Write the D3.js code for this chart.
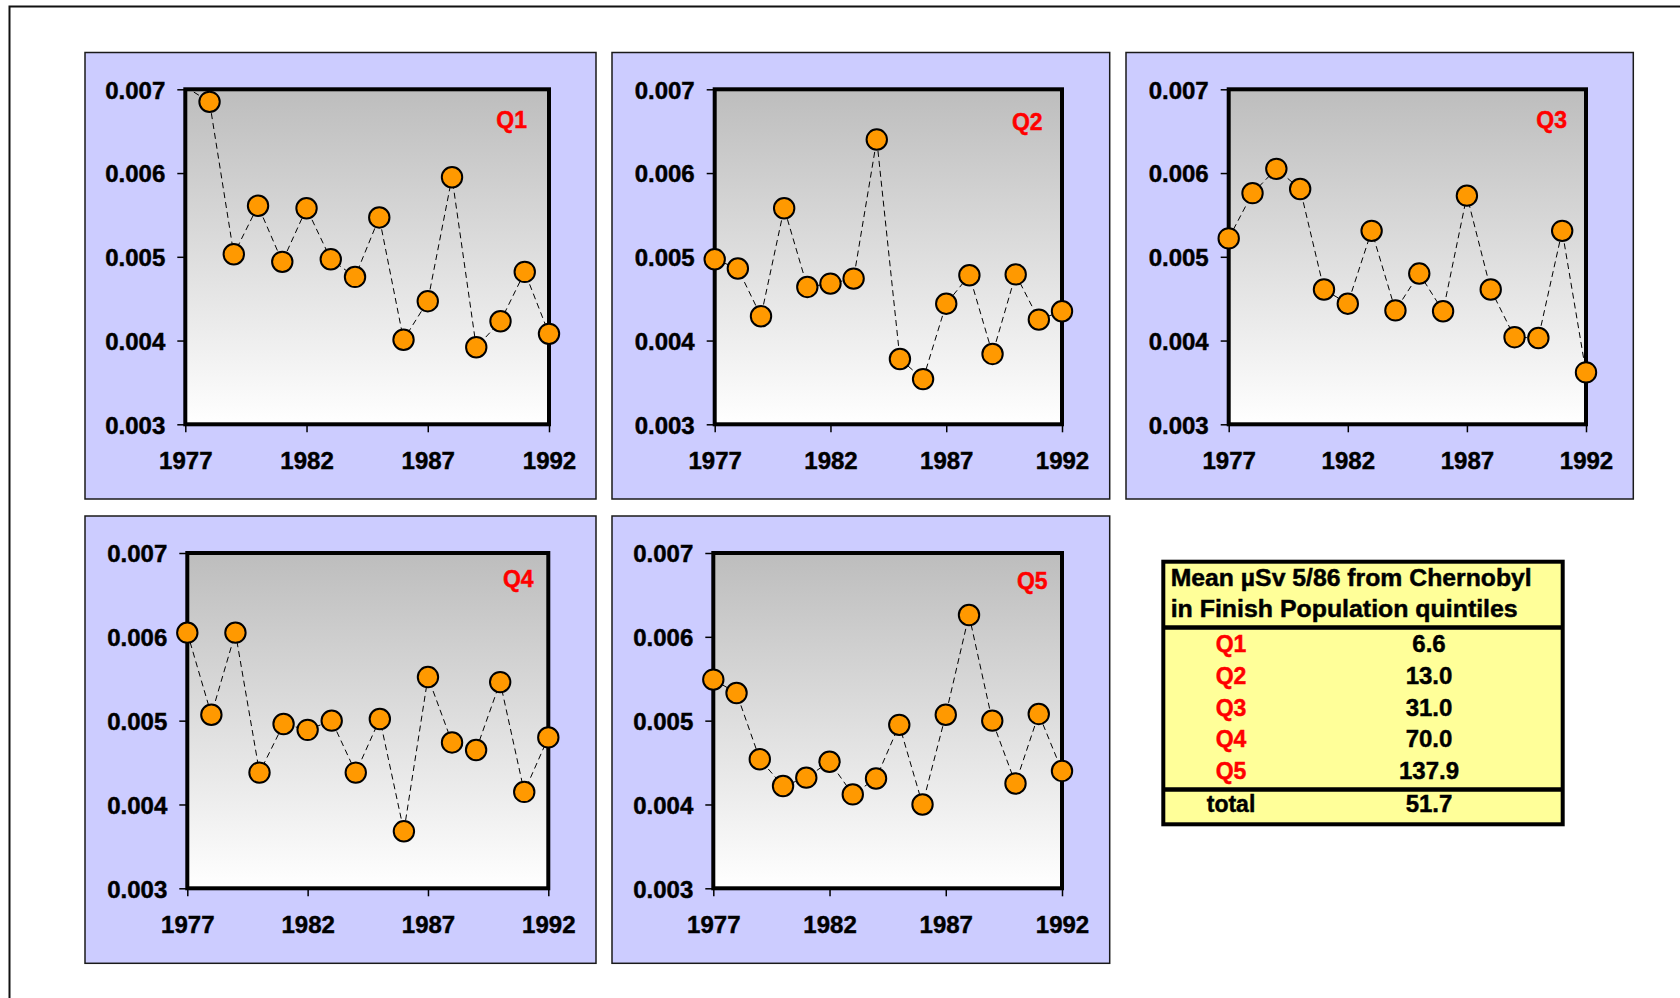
<!DOCTYPE html>
<html>
<head>
<meta charset="utf-8">
<script src="https://cdn.jsdelivr.net/npm/d3@7"></script>
<style>
  html, body { margin: 0; padding: 0; background: #ffffff; }
  svg { display: block; }
  text { font-family: "Liberation Sans", Arial, sans-serif; font-weight: bold; }
</style>
</head>
<body>
<svg id="chart" width="1680" height="998"></svg>
<script>
// ---------- DATA ----------
const years = [1977, 1978, 1979, 1980, 1981, 1982, 1983, 1984, 1985, 1986, 1987, 1988, 1989, 1990, 1991, 1992];
const xTickYears = [1977, 1982, 1987, 1992];
const yTickValues = [0.003, 0.004, 0.005, 0.006, 0.007];

const q1 = [0.00703, 0.00685, 0.00503, 0.00561, 0.00494, 0.00558, 0.00497, 0.00476, 0.00547, 0.00401, 0.00447, 0.00595, 0.00392, 0.00423, 0.00482, 0.00408];
const q2 = [0.00497, 0.00486, 0.00429, 0.00558, 0.00464, 0.00468, 0.00474, 0.00640, 0.00378, 0.00354, 0.00444, 0.00478, 0.00384, 0.00479, 0.00425, 0.00435];
const q3 = [0.00522, 0.00576, 0.00605, 0.00581, 0.00461, 0.00444, 0.00531, 0.00436, 0.00480, 0.00435, 0.00573, 0.00461, 0.00404, 0.00403, 0.00531, 0.00362];
const q4 = [0.00605, 0.00507, 0.00605, 0.00438, 0.00496, 0.00489, 0.00500, 0.00438, 0.00502, 0.00368, 0.00552, 0.00474, 0.00465, 0.00546, 0.00415, 0.00480];
const q5 = [0.00549, 0.00533, 0.00454, 0.00422, 0.00432, 0.00451, 0.00412, 0.00431, 0.00495, 0.00400, 0.00507, 0.00626, 0.00500, 0.00425, 0.00508, 0.00440];

const seriesNames = ["Q1", "Q2", "Q3", "Q4", "Q5"];
const seriesValues = [q1, q2, q3, q4, q5];

const tableTitle = ["Mean \u00b5Sv 5/86 from Chernobyl", "in Finish Population quintiles"];
const tableLabels = ["Q1", "Q2", "Q3", "Q4", "Q5"];
const tableValues = [6.6, 13.0, 31.0, 70.0, 137.9];
const totalLabel = "total";
const totalValue = 51.7;

// ---------- LAYOUT ----------
const layout = [
  { box: [85, 52.5, 596, 499],      plot: [185.3, 89.3, 549, 424.3],   label: [511.7, 128.3] },
  { box: [612, 52.5, 1109.7, 499],  plot: [714.7, 89.3, 1062, 424.3],  label: [1027.3, 130] },
  { box: [1126, 52.5, 1633.3, 499], plot: [1228.7, 89.3, 1586, 424.3], label: [1551.7, 128.3] },
  { box: [85, 516, 596, 963.3],     plot: [187.3, 553, 548.3, 888.3],  label: [518.3, 587.3] },
  { box: [612, 516, 1109.7, 963.3], plot: [713.3, 553, 1062, 888.3],   label: [1032.3, 589.3] }
];

const svg = d3.select("#chart");
const defs = svg.append("defs");

const grad = defs.append("linearGradient")
  .attr("id", "plotGrad").attr("x1", 0).attr("y1", 0).attr("x2", 0).attr("y2", 1);
grad.append("stop").attr("offset", "0%").attr("stop-color", "#bdbdbd");
grad.append("stop").attr("offset", "100%").attr("stop-color", "#ffffff");

// outer frame (top + left lines)
svg.append("path")
  .attr("d", "M9.5,1000 L9.5,6.5 L1690,6.5")
  .attr("fill", "none").attr("stroke", "#111").attr("stroke-width", 2);

const fmtY = d3.format(".3f");
const FONT = '"Liberation Sans", Arial, sans-serif';

function heavy(sel, color) {
  sel.attr("stroke", color).attr("stroke-width", 0.45).attr("paint-order", "stroke");
}

seriesNames.forEach((name, i) => {
  const L = layout[i];
  const vals = seriesValues[i];
  const [bx0, by0, bx1, by1] = L.box;
  const [px0, py0, px1, py1] = L.plot;

  const g = svg.append("g");

  g.append("rect")
    .attr("x", bx0).attr("y", by0)
    .attr("width", bx1 - bx0).attr("height", by1 - by0)
    .attr("fill", "#ccccff").attr("stroke", "#1a1a1a").attr("stroke-width", 1.5);

  const x = d3.scaleLinear().domain([1977, 1992]).range([px0, px1]);
  const y = d3.scaleLinear().domain([0.003, 0.007]).range([py1, py0]);

  g.append("rect")
    .attr("x", px0).attr("y", py0)
    .attr("width", px1 - px0).attr("height", py1 - py0)
    .attr("fill", "url(#plotGrad)");

  const clipId = "clip" + i;
  defs.append("clipPath").attr("id", clipId)
    .append("rect").attr("x", px0).attr("y", py0)
    .attr("width", px1 - px0).attr("height", py1 - py0);

  const pts = years.map((yr, k) => ({ yr, v: vals[k] }));

  const line = d3.line().x(d => x(d.yr)).y(d => y(d.v));
  g.append("path")
    .datum(pts)
    .attr("d", line)
    .attr("clip-path", `url(#${clipId})`)
    .attr("fill", "none")
    .attr("stroke", "#000")
    .attr("stroke-width", 1)
    .attr("stroke-dasharray", "6,4");

  // axes
  const yAxis = d3.axisLeft(y).tickValues(yTickValues).tickFormat(fmtY).tickSize(8).tickPadding(12);
  const ya = g.append("g").attr("transform", `translate(${px0},0)`).call(yAxis);
  ya.select(".domain").remove();
  ya.selectAll(".tick line").attr("stroke", "#000").attr("stroke-width", 1.5);
  ya.selectAll(".tick text")
    .attr("fill", "#000").attr("dy", "0.37em")
    .style("font-size", "24px").style("font-family", FONT).style("font-weight", "bold")
    .call(heavy, "#000");

  const xAxis = d3.axisBottom(x).tickValues(xTickYears).tickFormat(d3.format("d")).tickSize(8).tickPadding(20);
  const xa = g.append("g").attr("transform", `translate(0,${py1})`).call(xAxis);
  xa.select(".domain").remove();
  xa.selectAll(".tick line").attr("stroke", "#000").attr("stroke-width", 1.5);
  xa.selectAll(".tick text")
    .attr("fill", "#000")
    .style("font-size", "24px").style("font-family", FONT).style("font-weight", "bold")
    .call(heavy, "#000");

  // frame
  g.append("rect")
    .attr("x", px0).attr("y", py0)
    .attr("width", px1 - px0).attr("height", py1 - py0)
    .attr("fill", "none").attr("stroke", "#000").attr("stroke-width", 4);

  // markers (only within axis range)
  g.selectAll("circle.mk")
    .data(pts.filter(d => d.v >= 0.003 && d.v <= 0.007))
    .enter().append("circle")
    .attr("class", "mk")
    .attr("cx", d => x(d.yr))
    .attr("cy", d => y(d.v))
    .attr("r", 10.2)
    .attr("fill", "#ff9900")
    .attr("stroke", "#000")
    .attr("stroke-width", 2);

  g.append("text")
    .attr("x", L.label[0]).attr("y", L.label[1])
    .attr("text-anchor", "middle")
    .attr("fill", "#ff0000")
    .style("font-size", "23px")
    .call(heavy, "#ff0000")
    .text(name);
});

// ---------- TABLE ----------
const T = { x0: 1163.3, y0: 561.7, x1: 1562.7, y1: 824.3, headLine: 627.5, totalLine: 789.5,
            textX: 1170.7, titleY: [586, 617], rowY0: 651.7, rowStep: 31.9, totalY: 812,
            labelX: 1231, valueX: 1429 };

const tg = svg.append("g");
tg.append("rect")
  .attr("x", T.x0).attr("y", T.y0)
  .attr("width", T.x1 - T.x0).attr("height", T.y1 - T.y0)
  .attr("fill", "#ffff99").attr("stroke", "#000").attr("stroke-width", 4);
tg.append("line")
  .attr("x1", T.x0).attr("x2", T.x1).attr("y1", T.headLine).attr("y2", T.headLine)
  .attr("stroke", "#000").attr("stroke-width", 4.5);
tg.append("line")
  .attr("x1", T.x0).attr("x2", T.x1).attr("y1", T.totalLine).attr("y2", T.totalLine)
  .attr("stroke", "#000").attr("stroke-width", 4.5);

tg.selectAll("text.title").data(tableTitle).enter().append("text")
  .attr("class", "title")
  .attr("x", T.textX).attr("y", (d, k) => T.titleY[k])
  .attr("fill", "#000")
  .style("font-size", "23px")
  .attr("textLength", (d, k) => k === 0 ? 361 : 347)
  .attr("lengthAdjust", "spacingAndGlyphs")
  .call(heavy, "#000")
  .text(d => d);

const fmtT = d3.format(".1f");
tableLabels.forEach((lab, k) => {
  tg.append("text")
    .attr("x", T.labelX).attr("y", T.rowY0 + k * T.rowStep)
    .attr("text-anchor", "middle").attr("fill", "#ff0000")
    .style("font-size", "23px").call(heavy, "#ff0000").text(lab);
  tg.append("text")
    .attr("x", T.valueX).attr("y", T.rowY0 + k * T.rowStep)
    .attr("text-anchor", "middle").attr("fill", "#000")
    .style("font-size", "24px").call(heavy, "#000").text(fmtT(tableValues[k]));
});
tg.append("text")
  .attr("x", T.labelX).attr("y", T.totalY)
  .attr("text-anchor", "middle").attr("fill", "#000")
  .style("font-size", "23px").call(heavy, "#000").text(totalLabel);
tg.append("text")
  .attr("x", T.valueX).attr("y", T.totalY)
  .attr("text-anchor", "middle").attr("fill", "#000")
  .style("font-size", "24px").call(heavy, "#000").text(fmtT(totalValue));
</script>
</body>
</html>
